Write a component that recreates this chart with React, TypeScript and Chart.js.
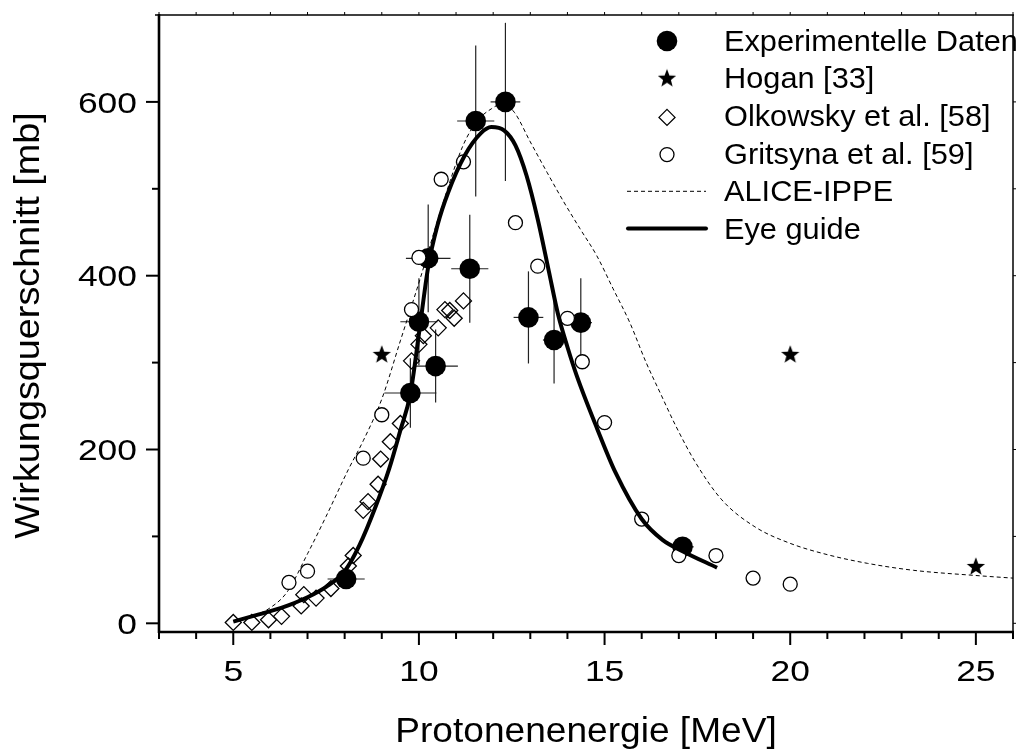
import React, { useEffect, useRef } from "react";
import { Chart, registerables } from "chart.js";

Chart.register(...registerables);

// ---------- data ----------
// Experimentelle Daten (filled circles with error bars)
const expEnergy = [8.04, 9.77, 10.0, 10.25, 10.45, 11.37, 11.53, 12.33, 12.95, 13.64, 14.36, 17.1];
const expSigma = [51, 265, 347, 420, 296, 408, 578, 600, 352, 326, 346, 88];
const expEnergyErr = [0.5, 0.7, 0.5, 0.6, 0.6, 0.5, 0.5, 0.4, 0.4, 0.3, 0.3, 0.3];
const expSigmaErr = [5, 40, 50, 62, 42, 62, 87, 91, 53, 50, 51, 8];

// Hogan [33]
const hoganEnergy = [9, 20, 25];
const hoganSigma = [310, 310, 66];

// Olkowsky et al. [58]
const olkEnergy = [5.0, 5.5, 5.95, 6.3, 6.83, 6.9, 7.23, 7.63, 8.1, 8.23, 8.5, 8.63, 8.9, 8.97, 9.23, 9.5, 9.8, 10.0, 10.12, 10.52, 10.7, 10.83, 10.95, 11.2];
const olkSigma = [1, 1, 4, 8, 20, 33, 29, 40, 66, 78, 130, 140, 160, 189, 209, 230, 302, 321, 331, 340, 361, 360, 351, 371];

// Gritsyna et al. [59]
const griEnergy = [6.5, 7.0, 8.5, 9.0, 9.8, 10.0, 10.6, 11.2, 12.6, 13.2, 14.0, 14.4, 15.0, 16.0, 17.0, 18.0, 19.0, 20.0];
const griSigma = [47, 60, 190, 240, 361, 421, 511, 531, 461, 411, 351, 301, 231, 120, 78, 78, 52, 45];

// ALICE-IPPE (dashed)
const aliceEnergy = [5.0, 5.5, 6.0, 6.45, 7.0, 7.5, 8.1, 8.5, 9.0, 9.5, 10.03, 10.6, 11.19, 11.59, 11.95, 12.25, 12.57, 13.0, 13.45, 13.9, 14.34, 14.79, 15.23, 15.68, 16.12, 16.5, 16.92, 17.45, 18.16, 19.05, 20.0, 21.0, 22.08, 23.32, 25.0, 26.0];
const aliceSigma = [3, 8, 18, 36, 80, 123, 177, 210, 258, 325, 396, 477, 550, 579, 592, 598, 588, 554, 519, 485, 454, 423, 385, 346, 300, 265, 227, 185, 142, 111, 92, 79, 69, 61, 55, 52];

// Eye guide (thick solid)
const eyeEnergy = [5.0, 5.5, 6.0, 6.5, 7.0, 7.5, 8.0, 8.4, 8.84, 9.2, 9.5, 9.77, 10.01, 10.25, 10.5, 10.79, 11.23, 11.67, 11.95, 12.3, 12.6, 12.9, 13.2, 13.5, 13.75, 14.0, 14.25, 14.8, 15.3, 16.0, 16.56, 17.1, 18.03];
const eyeSigma = [2, 8, 14, 21, 30, 42, 60, 90, 135, 178, 222, 264, 336, 410, 458, 496, 538, 564, 571, 567, 550, 515, 465, 405, 355, 318, 285, 224, 173, 120, 96, 83, 64];

// axes
const xMin = 3;
const xMax = 26;
const yMin = -10;
const yMax = 700;
const xTickLabels = [5, 10, 15, 20, 25];
const yTickLabels = [0, 200, 400, 600];
const xMinorStep = 1;
const yMinorStep = 100;
const xTitle = "Protonenenergie [MeV]";
const yTitle = "Wirkungsquerschnitt [mb]";
const legendLabels = [
  "Experimentelle Daten",
  "Hogan [33]",
  "Olkowsky et al. [58]",
  "Gritsyna et al. [59]",
  "ALICE-IPPE",
  "Eye guide",
];

const FONT = "'Liberation Sans', Arial, Helvetica, sans-serif";

function zip(xs: number[], ys: number[]) {
  return xs.map((x, i) => ({ x, y: ys[i] }));
}

function makeStar(outer: number, inner: number): HTMLCanvasElement {
  const size = Math.ceil(outer * 2 + 2);
  const c = document.createElement("canvas");
  c.width = size;
  c.height = size;
  const g = c.getContext("2d")!;
  const cx = size / 2;
  const cy = size / 2 + outer * 0.1;
  g.beginPath();
  for (let i = 0; i < 10; i++) {
    const r = i % 2 === 0 ? outer : inner;
    const a = -Math.PI / 2 + (i * Math.PI) / 5;
    const px = cx + r * Math.cos(a);
    const py = cy + r * Math.sin(a);
    if (i === 0) g.moveTo(px, py);
    else g.lineTo(px, py);
  }
  g.closePath();
  g.fillStyle = "#000";
  g.fill();
  return c;
}

function drawText(
  ctx: CanvasRenderingContext2D,
  text: string,
  x: number,
  y: number,
  size: number,
  sx: number,
  align: CanvasTextAlign,
  rotate = 0
) {
  ctx.save();
  ctx.font = `${size}px ${FONT}`;
  ctx.fillStyle = "#000";
  ctx.textBaseline = "alphabetic";
  ctx.textAlign = align;
  ctx.translate(x, y);
  if (rotate) ctx.rotate(rotate);
  ctx.scale(sx, 1);
  ctx.fillText(text, 0, 0);
  ctx.restore();
}

function seg(ctx: CanvasRenderingContext2D, x1: number, y1: number, x2: number, y2: number) {
  ctx.beginPath();
  ctx.moveTo(x1, y1);
  ctx.lineTo(x2, y2);
  ctx.stroke();
}

export default function App() {
  const ref = useRef<HTMLCanvasElement | null>(null);

  useEffect(() => {
    const canvas = ref.current;
    if (!canvas) return;
    const star = makeStar(9.6, 4.1);

    const framePlugin = {
      id: "frame",
      beforeDatasetsDraw(chart: any) {
        const ctx: CanvasRenderingContext2D = chart.ctx;
        const xs = chart.scales.x;
        const ys = chart.scales.y;
        ctx.save();
        ctx.strokeStyle = "#222";
        ctx.lineWidth = 1.2;
        expEnergy.forEach((e, i) => {
          const s = expSigma[i];
          const px = xs.getPixelForValue(e);
          const py = ys.getPixelForValue(s);
          seg(ctx, xs.getPixelForValue(e - expEnergyErr[i]), py, xs.getPixelForValue(e + expEnergyErr[i]), py);
          seg(ctx, px, ys.getPixelForValue(s - expSigmaErr[i]), px, ys.getPixelForValue(s + expSigmaErr[i]));
        });
        ctx.restore();
      },
      afterDraw(chart: any) {
        const ctx: CanvasRenderingContext2D = chart.ctx;
        const xs = chart.scales.x;
        const ys = chart.scales.y;
        const { left, right, top, bottom } = chart.chartArea;
        ctx.save();
        ctx.strokeStyle = "#000";
        ctx.lineCap = "butt";

        // x ticks (bottom outward, top small)
        for (let v = Math.ceil(xMin); v <= xMax + 1e-9; v += xMinorStep) {
          const px = xs.getPixelForValue(v);
          const major = xTickLabels.includes(v);
          ctx.lineWidth = 2;
          seg(ctx, px, bottom, px, bottom + (major ? 13 : 7));
          ctx.lineWidth = 1;
          seg(ctx, px, top, px, top - 3);
        }
        // y ticks (left outward, right small)
        for (let v = 0; v <= 600 + 1e-9; v += yMinorStep) {
          const py = ys.getPixelForValue(v);
          const major = yTickLabels.includes(v);
          ctx.lineWidth = 2;
          seg(ctx, left, py, left - (major ? 13 : 7), py);
          ctx.lineWidth = 1;
          seg(ctx, right, py, right + 3, py);
        }

        // frame
        ctx.lineWidth = 1.5;
        seg(ctx, left - 4, top, right + 1, top);
        seg(ctx, right, top, right, bottom);
        ctx.lineWidth = 2.6;
        seg(ctx, left, top - 1, left, bottom + 1);
        seg(ctx, left - 1, bottom, right + 1, bottom);

        // tick labels
        xTickLabels.forEach((v) => {
          drawText(ctx, String(v), xs.getPixelForValue(v), 681, 30, 1.18, "center");
        });
        yTickLabels.forEach((v) => {
          drawText(ctx, String(v), 137, ys.getPixelForValue(v) + 10.7, 30, 1.18, "right");
        });

        // axis titles
        drawText(ctx, xTitle, (left + right) / 2, 742, 35, 1.06, "center");
        drawText(ctx, yTitle, 39, (top + bottom) / 2 + 2, 35, 1.08, "center", -Math.PI / 2);

        // legend
        const symX = 667;
        const textX = 724;
        legendLabels.forEach((label, i) => {
          const base = 50.5 + 37.7 * i;
          const cy = base - 10.5;
          drawText(ctx, label, textX, base, 29, 1.06, "left");
          ctx.save();
          ctx.strokeStyle = "#000";
          ctx.fillStyle = "#000";
          if (i === 0) {
            ctx.beginPath();
            ctx.arc(symX, cy + 1, 10.3, 0, Math.PI * 2);
            ctx.fill();
          } else if (i === 1) {
            ctx.drawImage(star, symX - star.width / 2, cy - star.height / 2);
          } else if (i === 2) {
            ctx.lineWidth = 1.3;
            const r = 8;
            ctx.beginPath();
            ctx.moveTo(symX, cy + 2 - r);
            ctx.lineTo(symX + r, cy + 2);
            ctx.lineTo(symX, cy + 2 + r);
            ctx.lineTo(symX - r, cy + 2);
            ctx.closePath();
            ctx.stroke();
          } else if (i === 3) {
            ctx.lineWidth = 1.3;
            ctx.beginPath();
            ctx.arc(symX, cy + 1.5, 7, 0, Math.PI * 2);
            ctx.stroke();
          } else if (i === 4) {
            ctx.lineWidth = 1;
            ctx.setLineDash([4, 3]);
            seg(ctx, 627, cy + 0.5, 706, cy + 0.5);
          } else {
            ctx.lineWidth = 4;
            ctx.lineCap = "round";
            seg(ctx, 628, cy, 706, cy);
          }
          ctx.restore();
        });
        ctx.restore();
      },
    };

    const chart = new Chart(canvas, {
      type: "scatter",
      data: {
        datasets: [
          {
            label: legendLabels[1],
            data: zip(hoganEnergy, hoganSigma),
            pointStyle: star as any,
            pointRadius: 10,
            order: 0,
          },
          {
            label: legendLabels[5],
            data: zip(eyeEnergy, eyeSigma),
            showLine: true,
            borderColor: "#000",
            borderWidth: 4,
            pointRadius: 0,
            cubicInterpolationMode: "monotone",
            fill: false,
            order: 1,
          },
          {
            label: legendLabels[3],
            data: zip(griEnergy, griSigma),
            pointStyle: "circle",
            pointRadius: 7,
            backgroundColor: "#fff",
            borderColor: "#000",
            borderWidth: 1.3,
            order: 2,
          },
          {
            label: legendLabels[0],
            data: zip(expEnergy, expSigma),
            pointStyle: "circle",
            pointRadius: 10.3,
            backgroundColor: "#000",
            borderColor: "#000",
            borderWidth: 0,
            order: 3,
          },
          {
            label: legendLabels[2],
            data: zip(olkEnergy, olkSigma),
            pointStyle: "rectRot",
            pointRadius: 8,
            backgroundColor: "rgba(0,0,0,0)",
            borderColor: "#000",
            borderWidth: 1.3,
            order: 4,
          },
          {
            label: legendLabels[4],
            data: zip(aliceEnergy, aliceSigma),
            showLine: true,
            borderColor: "#000",
            borderWidth: 1,
            borderDash: [4, 3],
            pointRadius: 0,
            cubicInterpolationMode: "monotone",
            fill: false,
            order: 5,
          },
        ] as any,
      },
      options: {
        animation: false,
        responsive: false,
        devicePixelRatio: 1,
        events: [],
        layout: { padding: { left: 159, right: 4, top: 15, bottom: 117 } },
        scales: {
          x: { type: "linear", min: xMin, max: xMax, display: false },
          y: { type: "linear", min: yMin, max: yMax, display: false },
        },
        plugins: {
          legend: { display: false },
          tooltip: { enabled: false },
          title: { display: false },
        },
      },
      plugins: [framePlugin],
    });

    return () => {
      chart.destroy();
    };
  }, []);

  return (
    <div
      style={{
        position: "absolute",
        left: 0,
        top: 0,
        width: 1024,
        height: 749,
        background: "#fff",
      }}
    >
      <canvas ref={ref} width={1024} height={749} />
    </div>
  );
}
